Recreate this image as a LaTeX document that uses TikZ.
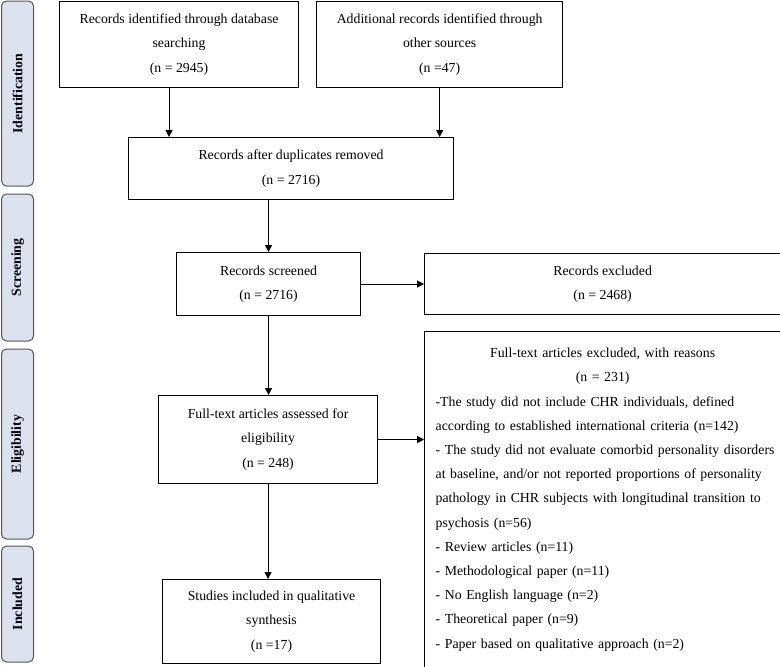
\documentclass[tikz,border=0pt]{standalone}
\usepackage{fontspec}
\setmainfont{Liberation Serif}
\usepackage{xcolor}
\definecolor{phasefill}{RGB}{220,225,240}
\definecolor{phaseline}{RGB}{85,85,85}
\usetikzlibrary{positioning, calc, arrows.meta}
\newcommand{\flowfont}{\fontsize{13.8}{24.2}\selectfont}
\tikzstyle{Box} = [
draw,
line width=1.1pt,
align=center,
inner sep=4pt,
font=\flowfont]
\tikzstyle{Phase} = [
draw=phaseline, fill=phasefill,
line width=1pt, rounded corners=5pt,
rotate=90, minimum height=32pt, inner sep=0pt,
font=\flowfont\bfseries]
\tikzstyle{Arrow} = [line width=1.1pt, -{Triangle[length=7pt, width=7pt]}]

\begin{document}
\begin{tikzpicture}[x=1pt, y=-1pt]
    \useasboundingbox (0,0) rectangle (780,667);

    % phases
    \node [Phase, minimum width=185pt] (ident) at (17.5,93.5) {Identification};
    \node [Phase, minimum width=147pt] (screen) at (17.5,267.5) {Screening};
    \node [Phase, minimum width=190pt] (elig) at (17.5,444) {Eligibility};
    \node [Phase, minimum width=116pt] (incl) at (17.5,604) {Included};

    % boxes
    \node [Box, minimum width=239pt, minimum height=86pt, anchor=north west] (dbsearch) at (59,1)
        {Records identified through database\\searching\\(n = 2945)};
    \node [Box, minimum width=246pt, minimum height=86pt, right=17pt of dbsearch] (othersrc)
        {Additional records identified through\\other sources\\(n =47)};
    \node [Box, minimum width=325pt, minimum height=62pt, anchor=north west] (dedup) at (128,137)
        {Records after duplicates removed\\(n = 2716)};
    \node [Box, minimum width=184pt, minimum height=63pt, anchor=north west] (screened) at (176,252)
        {Records screened\\(n = 2716)};
    \node [Box, minimum width=356pt, minimum height=61pt, right=63pt of screened] (excluded)
        {Records excluded\\(n = 2468)};
    \node [Box, minimum width=219pt, minimum height=88pt, anchor=north west] (fulltext) at (158,395)
        {Full-text articles assessed for\\eligibility\\(n = 248)};
    \node [Box, text width=334pt, inner xsep=11pt, minimum height=336pt, align=left, below=16pt of excluded] (reasons)
        {\centering Full-text articles excluded, with reasons\\(n = 231)\par
        \raggedright -The study did not include CHR individuals, defined\\
        according to established international criteria (n=142)\\
        \mbox{- The study did not evaluate comorbid personality disorders}\\
        at baseline, and/or not reported proportions of personality\\
        pathology in CHR subjects with longitudinal transition to\\
        psychosis (n=56)\\
        - Review articles (n=11)\\
        - Methodological paper (n=11)\\
        - No English language (n=2)\\
        - Theoretical paper (n=9)\\
        - Paper based on qualitative approach (n=2)\par\vspace{10pt}};
    \node [Box, minimum width=218pt, minimum height=84pt, anchor=north west] (included) at (162,579)
        {Studies included in qualitative\\synthesis\\(n =17)};

    \draw[Arrow] ([xshift=-10pt]dbsearch.south) -- ([xshift=-10pt]dbsearch.south |- dedup.north);
    \draw[Arrow] (othersrc.south) -- (othersrc.south |- dedup.north);
    \draw[Arrow] (dedup.south -| screened.north) -- (screened.north);
    \draw[Arrow] (screened.east) -- (excluded.west);
    \draw[Arrow] (screened.south) -- (screened.south |- fulltext.north);
    \draw[Arrow] (fulltext.east) -- (fulltext.east -| reasons.west);
    \draw[Arrow] (fulltext.south) -- (fulltext.south |- included.north);
\end{tikzpicture}
\end{document}
